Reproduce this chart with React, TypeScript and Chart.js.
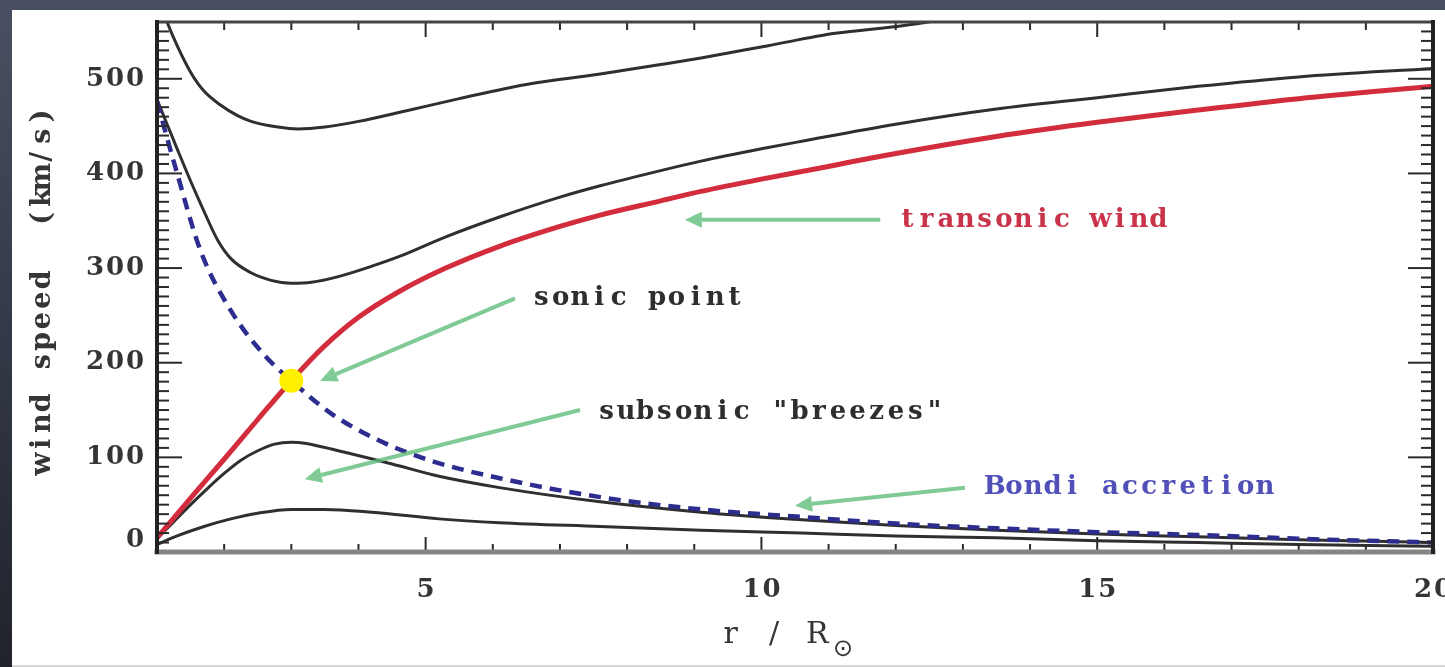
import { useEffect, useRef } from "react";
import { Chart, registerables } from "chart.js";

Chart.register(...registerables);

// ---- data (r in solar radii, v in km/s) ----
const upperR = [1, 1.15, 1.3, 1.5, 1.7, 1.95, 2.2, 2.4, 2.8, 3.1, 3.5, 4.0, 4.7, 5.5, 6.5, 7.6, 8.5, 9.1, 10.1, 11.1, 12.1, 13.0];
const upperV = [590, 560, 535, 507, 487, 472, 461, 455, 449, 447, 449, 455, 466, 479, 494, 505, 515, 522, 535, 548, 556, 566];

const superR = [1, 1.15, 1.3, 1.5, 1.7, 1.9, 2.1, 2.4, 2.7, 3.0, 3.3, 3.7, 4.2, 4.6, 5.3, 6.1, 7.0, 7.6, 8.5, 9.1, 10.0, 10.6, 12.0, 13.5, 15.0, 16.5, 18.0, 20.0];
const superV = [478, 452, 426, 392, 360, 330, 310, 295, 287, 284, 285, 291, 302, 312, 333, 354, 375, 387, 403, 413, 426, 434, 452, 468, 480, 492, 502, 511];

const transonicR = [1, 1.5, 2.0, 2.5, 3.0, 3.5, 4.0, 4.6, 5.3, 6.1, 7.0, 7.6, 8.5, 9.1, 10.0, 10.6, 12.0, 13.5, 15.0, 16.5, 18.0, 20.0];
const transonicV = [15, 57, 98, 140, 181, 218, 248, 275, 300, 323, 344, 356, 371, 381, 394, 402, 421, 439, 454, 467, 479, 492];

const bondiR = [1, 1.3, 1.65, 2.1, 2.6, 3.0, 3.6, 4.3, 5.1, 6.1, 7.6, 9.1, 10.6, 12.0, 13.5, 15.0, 16.5, 18.0, 20.0];
const bondiV = [476, 400, 318, 255, 208, 181, 146, 118, 96, 78, 58, 45, 37, 30, 25, 21, 18, 14, 10];

const breezeR = [1, 1.25, 1.5, 1.75, 2.0, 2.25, 2.5, 2.75, 3.0, 3.2, 3.7, 4.5, 5.2, 6.1, 7.6, 9.1, 10.6, 12.0, 13.5, 15.0, 16.5, 18.0, 20.0];
const breezeV = [14, 32, 50, 67, 83, 97, 107, 114, 116, 115, 107, 93, 80, 68, 53, 42, 34, 28, 23, 19, 16, 13, 10];

const slowR = [1, 1.3, 1.7, 2.1, 2.5, 3.0, 3.5, 4.2, 5.2, 6.1, 7.6, 9.1, 10.6, 12.0, 13.5, 15.0, 16.5, 18.0, 20.0];
const slowV = [8, 17, 27, 35, 41, 45, 45, 42, 35, 31, 27, 23, 20, 17, 15, 12, 10, 8, 6];

const sonicR = [3.0];
const sonicV = [181];

// ---- axes ----
const xMin = 1;
const xMax = 20;
const yMin = 0;
const yMax = 560;
const xTicks = [5, 10, 15, 20];
const yTicks = [0, 100, 200, 300, 400, 500];
const xMinorStep = 1;
const yMinorStep = 10;

// ---- annotations: label text, anchor, arrow tail -> head (data coords) ----
const labelTexts = ["transonic wind", "sonic point", "subsonic \"breezes\"", "Bondi accretion"];
const labelAt = [
  [12.03, 351],
  [6.58, 268],
  [7.55, 148],
  [13.33, 68],
];
const arrowFrom = [
  [11.77, 351],
  [6.33, 268],
  [7.3, 150],
  [13.03, 68],
];
const arrowTo = [
  [8.86, 351],
  [3.43, 181],
  [3.2, 77],
  [10.5, 49],
];
const labelColors = ["#c9344a", "#2e2e2e", "#2e2e2e", "#5050b8"];

const pts = (r: number[], v: number[]) => r.map((x, i) => ({ x, y: v[i] }));

// draw text on a fixed character pitch, like a plotter font
function pitched(ctx: CanvasRenderingContext2D, text: string, x: number, y: number, pitch: number, align: "left" | "right" | "center") {
  const n = text.length;
  let start = x;
  if (align === "right") start = x - n * pitch;
  if (align === "center") start = x - (n * pitch) / 2;
  ctx.textAlign = "center";
  for (let i = 0; i < n; i++) {
    ctx.fillText(text[i], start + (i + 0.5) * pitch, y);
  }
}

const frame = {
  id: "plotFrame",
  afterDatasetsDraw(chart: any) {
    const { ctx, chartArea: a, scales } = chart;
    const xs = scales.x;
    const ys = scales.y;
    ctx.save();

    const seg = (x1: number, y1: number, x2: number, y2: number) => {
      ctx.beginPath();
      ctx.moveTo(x1, y1);
      ctx.lineTo(x2, y2);
      ctx.stroke();
    };

    // inward ticks
    ctx.strokeStyle = "#2a2a2a";
    ctx.lineWidth = 2;
    for (let v = yMin; v <= yMax; v += yMinorStep) {
      const major = v % 100 === 0;
      const len = major ? 25 : 12;
      const py = ys.getPixelForValue(v);
      seg(a.left, py, a.left + len, py);
      seg(a.right, py, a.right - len, py);
    }
    for (let v = xMin; v <= xMax; v += xMinorStep) {
      const major = v % 5 === 0;
      const len = major ? 15 : 8;
      const px = xs.getPixelForValue(v);
      seg(px, a.top, px, a.top + len);
      seg(px, a.bottom, px, a.bottom - len);
    }

    // box
    ctx.lineCap = "square";
    ctx.strokeStyle = "#444";
    ctx.lineWidth = 3;
    seg(a.left, a.top, a.right, a.top);
    ctx.strokeStyle = "#858585";
    ctx.lineWidth = 5;
    seg(a.left, a.bottom, a.right, a.bottom);
    ctx.strokeStyle = "#222";
    ctx.lineWidth = 4;
    seg(a.left, a.top, a.left, a.bottom);
    seg(a.right, a.top, a.right, a.bottom);

    // tick labels
    ctx.fillStyle = "#353535";
    ctx.font = "bold 26px 'DejaVu Serif'";
    ctx.textBaseline = "middle";
    yTicks.forEach((v) => {
      const py = ys.getPixelForValue(v) - (v === 0 ? 12 : 0);
      pitched(ctx, String(v), a.left - 12, py, 20, "right");
    });
    xTicks.forEach((v) => {
      pitched(ctx, String(v), xs.getPixelForValue(v), a.bottom + 38, 20, "center");
    });

    // axis titles
    ctx.font = "bold 27px 'DejaVu Serif'";
    ctx.save();
    ctx.translate(31, (a.top + a.bottom) / 2 + 3);
    ctx.rotate(-Math.PI / 2);
    pitched(ctx, "wind speed  (km/s)", 0, 0, 20.5, "center");
    ctx.restore();
    ctx.font = "30px 'DejaVu Serif'";
    ctx.textBaseline = "alphabetic";
    const xc = (a.left + a.right) / 2 - 21;
    pitched(ctx, "r / R", xc, a.bottom + 91, 21.7, "center");
    ctx.font = "24px 'DejaVu Sans'";
    ctx.textAlign = "center";
    ctx.textBaseline = "middle";
    ctx.fillText("\u2299", xc + 69, a.bottom + 98);

    // arrows
    ctx.strokeStyle = "rgba(96, 190, 122, 0.8)";
    ctx.fillStyle = "rgba(96, 190, 122, 0.8)";
    ctx.lineWidth = 4;
    ctx.lineCap = "butt";
    arrowFrom.forEach((f, i) => {
      const x1 = xs.getPixelForValue(f[0]);
      const y1 = ys.getPixelForValue(f[1]);
      const x2 = xs.getPixelForValue(arrowTo[i][0]);
      const y2 = ys.getPixelForValue(arrowTo[i][1]);
      const ang = Math.atan2(y2 - y1, x2 - x1);
      const hl = 17;
      const hw = 8;
      const bx = x2 - hl * Math.cos(ang);
      const by = y2 - hl * Math.sin(ang);
      seg(x1, y1, bx, by);
      ctx.beginPath();
      ctx.moveTo(x2, y2);
      ctx.lineTo(bx + hw * Math.sin(ang), by - hw * Math.cos(ang));
      ctx.lineTo(bx - hw * Math.sin(ang), by + hw * Math.cos(ang));
      ctx.closePath();
      ctx.fill();
    });

    // annotation labels
    ctx.font = "bold 26px 'DejaVu Serif'";
    ctx.textBaseline = "middle";
    labelTexts.forEach((t, i) => {
      ctx.fillStyle = labelColors[i];
      pitched(ctx, t, xs.getPixelForValue(labelAt[i][0]), ys.getPixelForValue(labelAt[i][1]), 19.3, "left");
    });

    ctx.restore();
  },
};

export default function App() {
  const ref = useRef<HTMLCanvasElement>(null);

  useEffect(() => {
    if (!ref.current) return;
    const black = { borderColor: "#2f2f2f", borderWidth: 3, pointRadius: 0, cubicInterpolationMode: "monotone" as const, order: 3 };
    const chart = new Chart(ref.current, {
      type: "line",
      data: {
        datasets: [
          { ...black, data: pts(upperR, upperV) },
          { ...black, data: pts(superR, superV) },
          { ...black, data: pts(breezeR, breezeV) },
          { ...black, data: pts(slowR, slowV) },
          {
            data: pts(transonicR, transonicV),
            borderColor: "#d32c3c",
            borderWidth: 5,
            pointRadius: 0,
            cubicInterpolationMode: "monotone",
            order: 2,
          },
          {
            data: pts(bondiR, bondiV),
            borderColor: "#2d2d8f",
            borderWidth: 4.5,
            borderDash: [12, 8],
            pointRadius: 0,
            cubicInterpolationMode: "monotone",
            order: 1,
          },
          {
            data: pts(sonicR, sonicV),
            showLine: false,
            pointRadius: 12,
            pointBackgroundColor: "#fff000",
            pointBorderWidth: 0,
            order: 0,
          },
        ],
      },
      options: {
        animation: false,
        responsive: false,
        devicePixelRatio: 1,
        layout: { padding: { left: 145, top: 5, right: 12, bottom: 113 } },
        scales: {
          x: { type: "linear", min: xMin, max: xMax, display: false },
          y: { type: "linear", min: yMin, max: yMax, display: false },
        },
        plugins: { legend: { display: false }, tooltip: { enabled: false } },
      },
      plugins: [frame],
    });
    return () => chart.destroy();
  }, []);

  return (
    <div
      style={{
        position: "fixed",
        inset: 0,
        background: "linear-gradient(180deg, #4a5063 0%, #363b4a 45%, #20232b 100%)",
      }}
    >
      <div
        style={{
          position: "absolute",
          left: 12,
          top: 10,
          width: 1433,
          height: 655,
          background: "#fff",
          borderBottom: "2px solid #d6d6d6",
        }}
      >
        <canvas ref={ref} width={1433} height={655} style={{ display: "block", width: 1433, height: 655 }} />
      </div>
    </div>
  );
}
